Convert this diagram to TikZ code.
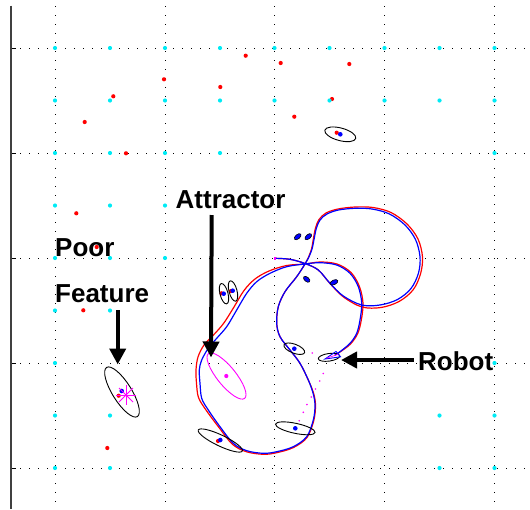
\documentclass[tikz,border=0pt]{standalone}
\usepackage{fontspec}
\setmainfont{Liberation Sans}
\usetikzlibrary{arrows.meta}
\definecolor{lmcyan}{RGB}{0,235,245}
\definecolor{lmred}{RGB}{255,0,0}
\definecolor{lmblue}{RGB}{0,0,255}
\definecolor{lmmag}{RGB}{255,0,255}
\begin{document}
\begin{tikzpicture}[x=1pt,y=-1pt,
  gridline/.style={black, line width=0.9pt, dash pattern=on 1.1pt off 7.9pt},
  axisline/.style={black!75, line width=1.3pt},
  tickline/.style={black, line width=0.9pt},
  cov/.style={black, line width=0.9pt},
  smallcov/.style={black, fill=lmblue, line width=0.6pt},
  truepath/.style={lmred, line width=1.2pt},
  estpath/.style={lmblue, line width=1.2pt},
  bigarrow/.style={black, line width=4pt, -{Triangle[length=16pt,width=16pt]}},
  label/.style={inner sep=0pt, anchor=base west, font=\fontsize{26}{30}\selectfont\bfseries}
]
\useasboundingbox (0,0) rectangle (530,509);

% dotted grid
\foreach \gy in {48,153,258,363,468} {
  \draw[gridline] (11,\gy) -- (530,\gy);
  \draw[tickline] (11,\gy) -- (16,\gy);
}
\foreach \gx in {55,165,274.5,384.5,494.5}
  \draw[gridline] (\gx,6) -- (\gx,509);
\draw[axisline] (11,5.5) -- (11,509);

% true landmark positions
\foreach \px/\py in {245.7/55.7,164/79.3,220.3/87,113.3/96.3,84.7/122,126/153.3,
    280.7/63,349.3/64,332/99,294.3/116.7,76.3/213.3,96.7/247,83.3/310.3,107.3/448,
    336.7/132.7,118.7/395.7,221.5/293.3,231/291,218/441}
  \fill[lmred] (\px,\py) circle (2.1pt);

% candidate positions
\foreach \py/\xs in {48/{55,110,165,220,274.5,329.5,384.5,439.5,494.5},
    100.5/{55,110,165,220,274.5,329.5,384.5,439.5,494.5},
    153/{55,110,165,220,494.5}, 205.5/{55,110,165}, 258/{55,110,165},
    310.5/{55,110}, 363/{55,494.5}, 415.5/{55,110,439.5,494.5},
    468/{55,110,439.5,494.5}}
  \foreach \px in \xs
    \fill[lmcyan] (\px,\py) circle (2.1pt);

% true robot path
\draw[truepath] plot[smooth, tension=0.55] coordinates {
  (275,258.3) (290,259.3) (305,263.5) (318.3,270) (330,283.5) (343.5,297)
  (362,307) (381,307.5) (399,301.5) (413,290) (420.5,274) (422.5,257)
  (418,239) (407,224) (391,212.5) (373,207.5) (355,207) (338,209) (326,213)
  (319,219.5) (315.5,228) (313.5,238) (311.5,249) (308,258.3) (305,264)
  (296.7,276.7) (285,291.7) (278.3,306.7) (276.7,323.3)
  (280,336.7) (290,350) (300,363.3) (308.3,380) (313.5,393) (315.5,405)
  (313.8,420.5) (307,437.5) (293.5,447.5) (276.7,452.7) (263.3,454.3)
  (246.3,451.7) (232.5,444.3) (219,427.5) (206,410) (198.5,397.5) (196.5,383.3)
  (196,370) (198,357) (204,345) (213,335.5) (223.5,323.5) (234,307)
  (244,290.5) (255,279) (269,271) (286.7,265.5) (305,264) (320,262) (337,264)
  (351,272.5) (359.5,286.7) (363,303.3) (361.3,320) (357.7,333.5) (350.5,344)
  (340,352) (335,355)};

% estimated robot path
\draw[estpath] plot[smooth, tension=0.55] coordinates {
  (275,258.3) (290,259.3) (305,263.5) (318.3,270) (330,283.3) (343.3,296)
  (361.7,305) (380,305) (397.5,299.5) (411,288.5) (418.5,273) (420,256.7)
  (415.5,239.5) (405,225) (389.5,214) (372,209) (355,208.3) (338.5,210)
  (327,214) (320,220) (316.3,228.5) (314.2,238.5) (312,249) (308.3,258.3)
  (305,264) (296.7,276.7) (285,291.7) (278.3,306.7)
  (276.7,323.3) (280,336.7) (290,350) (300,363.3) (308.3,380) (313,393)
  (315,405) (313.3,420) (306.7,436.7) (293.3,446.7) (276.7,451.7) (263.3,453.3)
  (246.7,450.7) (233.3,443.3) (220,426.7) (208.3,410) (201.7,398.3) (200,383.3)
  (199.3,370) (201.7,360) (208.3,348.3) (216.7,338.3) (226.7,326.7) (236.7,310)
  (246.7,293.3) (256.7,281.7) (270,273.3) (286.7,266.7) (305,264) (320,262.7)
  (336.7,265) (350,273.3) (358.3,286.7) (361.7,303.3) (360,320) (356.7,333.3)
  (350,343.3) (340,351.7) (335,355)};

% start of the path
\fill[lmmag] (273.5,257) rectangle (276,259.5);

% planned motion
\foreach \px/\py in {312.3/353,323.3/373.5,319.7/381,315.5/389,311.2/397,
    306.9/404.5,303.3/412.3,299.3/420.7}
  \fill[lmmag] (\px,\py) circle (0.9pt);

% attractor covariance
\draw[lmmag, line width=0.9pt, rotate around={-51:(226.5,376)}] (226.5,376) ellipse (28.8pt and 9.3pt);
\fill[lmmag] (226.3,376) circle (2.1pt);

% landmark covariances
\draw[cov, rotate around={-15:(340.3,134.3)}] (340.3,134.3) ellipse (16pt and 6.3pt);
\draw[cov, rotate around={-58:(122,392)}] (122,392) ellipse (29pt and 9.5pt);
\draw[cov, rotate around={105:(224,293.7)}] (224,293.7) ellipse (10.5pt and 4pt);
\draw[cov, rotate around={105:(233,291)}] (233,291) ellipse (10.5pt and 4pt);
\draw[cov, rotate around={-25.5:(220.3,440.5)}] (220.3,440.5) ellipse (24.4pt and 5.5pt);
\draw[cov, rotate around={-12:(295.3,428.3)}] (295.3,428.3) ellipse (20.2pt and 5pt);
\draw[cov, rotate around={-21:(294.3,348.7)}] (294.3,348.7) ellipse (11pt and 4.5pt);
\draw[smallcov, rotate around={40:(297.7,236.7)}] (297.7,236.7) ellipse (4pt and 2.2pt);
\draw[smallcov, rotate around={40:(308.3,236.7)}] (308.3,236.7) ellipse (4pt and 2.2pt);
\draw[smallcov, rotate around={-40:(306.7,279.3)}] (306.7,279.3) ellipse (3.8pt and 2.2pt);
\draw[smallcov, rotate around={25:(334,282.3)}] (334,282.3) ellipse (4.2pt and 2.3pt);

% estimated landmark positions
\foreach \px/\py in {340.3/134.3,121.7/391,223.7/293.7,232.7/290.7,220.3/440,
    295.3/428.3,294.3/348.7}
  \fill[lmblue] (\px,\py) circle (2.3pt);

% poorly observed feature marker
\begin{scope}[lmmag, line width=0.9pt]
  \draw (116,395) -- (136,395);
  \draw (126,385) -- (126,405);
  \draw (119,388) -- (133,402);
  \draw (119,402) -- (133,388);
\end{scope}

% robot pose and its covariance
\draw[cov, rotate around={8:(329,357.3)}] (329,357.3) ellipse (10.8pt and 3.8pt);
\draw[lmblue, line width=0.9pt] (325,359) -- (336,351.5) -- (340.5,356.8) -- cycle;
\draw[lmmag, line width=0.7pt] (326.5,358.3) -- (338,354.3);

% labels
\node[label] (attrlabel) at (175.5,208.5) {Attractor};
\node[label] (poorlabel) at (55,256.7) {Poor};
\node[label] (featlabel) at (55,302.5) {Feature};
\node[label] (robotlabel) at (418,370) {Robot};

% arrows
\coordinate (attrtail) at (211.7,215);
\coordinate (attrtip) at (211,357.5);
\coordinate (feattail) at (117.7,310);
\coordinate (feattip) at (117.7,364.5);
\coordinate (robottail) at (413.5,360);
\coordinate (robottip) at (341,360);
\draw[bigarrow] (attrtail) -- (attrtip);
\draw[bigarrow] (feattail) -- (feattip);
\draw[bigarrow] (robottail) -- (robottip);
\end{tikzpicture}
\end{document}
